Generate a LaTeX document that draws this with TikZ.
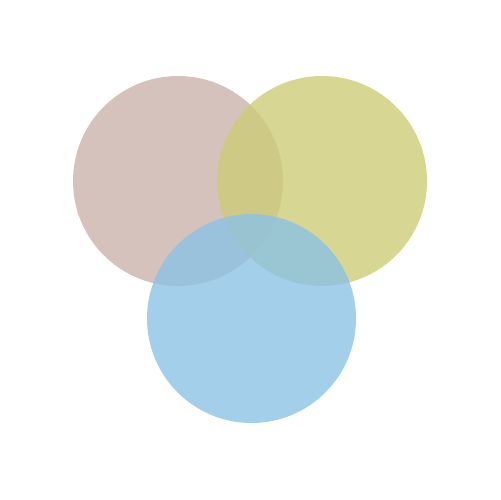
\documentclass[tikz,border=0pt]{standalone}
\usepackage{xcolor}
\usepackage{tikz}
\usetikzlibrary{positioning}
\definecolor{rosebrown}{RGB}{204,179,173}
\definecolor{olive}{RGB}{205,205,120}
\definecolor{skyblue}{RGB}{140,195,229}
\tikzset{disc/.style={fill=#1,fill opacity=.8,draw=none}}
\begin{document}
\begin{tikzpicture}[x=0.02cm,y=-0.02cm]
\useasboundingbox (0,0) rectangle (500,500);
\fill[disc=rosebrown] (178,181) circle (105);
\fill[disc=olive]     (322,181) circle (105);
\fill[disc=skyblue]   (251.5,318.5) circle (104.5);
\end{tikzpicture}
\end{document}
